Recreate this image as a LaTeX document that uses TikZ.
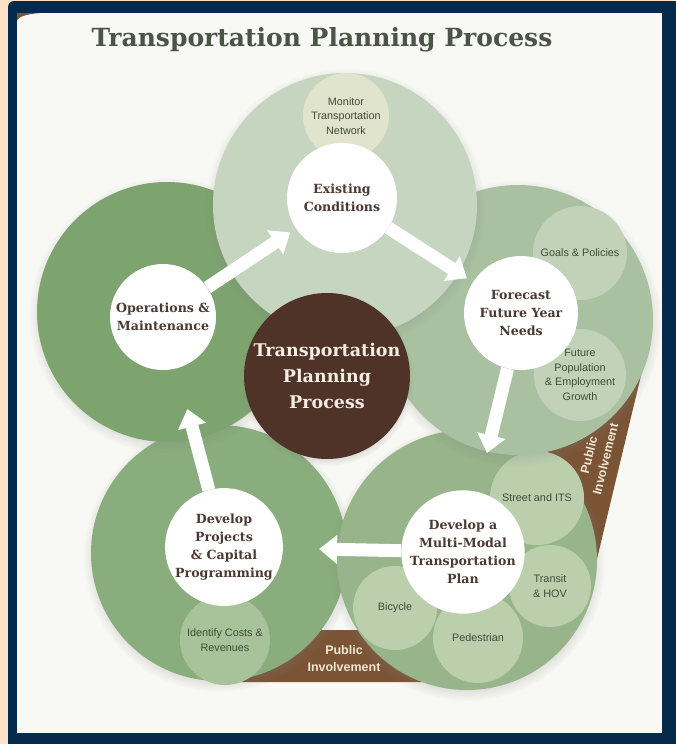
\documentclass[tikz,border=0pt]{standalone}
\usepackage{fontspec}
\setmainfont{DejaVu Serif}
\newfontfamily\labelfont{Liberation Sans}
\usepackage{tikz}
\usetikzlibrary{arrows.meta,shadows}

\definecolor{peach}{HTML}{FCE3C8}
\definecolor{navy}{HTML}{062A4C}
\definecolor{paper}{HTML}{F8F8F4}
\definecolor{titlegray}{HTML}{4B5447}
\definecolor{ringbrown}{HTML}{7B5435}
\definecolor{hubbrown}{HTML}{4F3328}
\definecolor{hubink}{HTML}{F3EDE3}
\definecolor{existgreen}{HTML}{C6D5C0}
\definecolor{monitorfill}{HTML}{E1E4CC}
\definecolor{opsgreen}{HTML}{7DA36F}
\definecolor{foregreen}{HTML}{A9C1A1}
\definecolor{foresub}{HTML}{C2D2B8}
\definecolor{plangreen}{HTML}{97B48A}
\definecolor{plansub}{HTML}{BBCFAD}
\definecolor{projgreen}{HTML}{89AD7C}
\definecolor{projsub}{HTML}{A8C29A}
\definecolor{stepink}{HTML}{4A3A33}
\definecolor{subink}{HTML}{3F4B3B}
\definecolor{pubink}{HTML}{F0E6D6}

\begin{document}
\begin{tikzpicture}[x=1pt,y=-1pt,
  bigdisc/.style={circle,minimum size=#1,inner sep=0pt,
    circular drop shadow={shadow scale=1.06,shadow xshift=0pt,shadow yshift=-3pt,opacity=.35}},
  whitedisc/.style={circle,fill=white,minimum size=#1,inner sep=0pt,align=center,
    text=stepink,font=\bfseries\fontsize{12.6}{18}\selectfont},
  subdisc/.style={circle,minimum size=#1,inner sep=0pt,align=center,
    text=subink,font=\labelfont\fontsize{10.8}{14.5}\selectfont},
  flow/.style={white,line width=13pt,-{Triangle[width=28pt,length=18pt]}},
  publabel/.style={text=pubink,align=center,font=\labelfont\bfseries\fontsize{12.5}{17}\selectfont}]
\useasboundingbox (0,0) rectangle (675,744);

% Frame
\fill[peach] (0,0) rectangle (675,744);
\fill[navy,rounded corners=6pt] (8,1) rectangle (700,770);
\fill[paper] (17,13) rectangle (662,733);
\fill[ringbrown] (17,13) -- (40,13) .. controls (28,14) and (20,16) .. (17,20) -- cycle;

\node[anchor=base,text=titlegray,font=\bfseries\fontsize{25}{30}\selectfont] (title) at (322,46)
  {Transportation Planning Process};

% Public involvement bands
\fill[ringbrown] (225,682) -- (318,630) -- (372,630) -- (450,682) -- cycle;
\fill[ringbrown] (650,338) -- (590,588) -- (540,450) -- cycle;

% Develop projects
\node[bigdisc=256pt,fill=projgreen] (projbig) at (219,553) {};
\node[subdisc=90pt,fill=projsub] (costs) at (225,640) {Identify Costs \&\\Revenues};
\node[whitedisc=116pt] (proj) at (224,547) {Develop\\Projects\\\& Capital\\Programming};

% Multi-modal plan
\node[bigdisc=260pt,fill=plangreen] (planbig) at (467,560) {};
\node[subdisc=94pt,fill=plansub] (street) at (537,498) {Street and ITS};
\node[subdisc=82pt,fill=plansub] (transit) at (550,586) {Transit\\\& HOV};
\node[subdisc=90pt,fill=plansub] (ped) at (478,638) {Pedestrian};
\node[subdisc=84pt,fill=plansub] (bike) at (395,608) {Bicycle};
\node[whitedisc=114pt] (plan) at (463,552) {Develop a\\Multi-Modal\\Transportation\\Plan};

% Forecast
\node[bigdisc=270pt,fill=foregreen] (forebig) at (518,320) {};
\node[subdisc=94pt,fill=foresub] (goals) at (580,253) {Goals \& Policies};
\node[subdisc=92pt,fill=foresub] (growth) at (580,375) {Future\\Population\\\& Employment\\Growth};
\node[whitedisc=114pt] (fore) at (521,313) {Forecast\\Future Year\\Needs};

% Operations
\node[bigdisc=260pt,fill=opsgreen] (opsbig) at (167,312) {};
\node[whitedisc=106pt] (ops) at (163,317) {Operations \&\\Maintenance};

% Existing conditions
\node[bigdisc=264pt,fill=existgreen] (existbig) at (345,205) {};
\node[subdisc=86pt,fill=monitorfill] (monitor) at (346,116) {Monitor\\Transportation\\Network};
\node[whitedisc=110pt] (exist) at (342,198) {Existing\\Conditions};

% Cycle arrows
\draw[flow,shorten >=7pt] (ops) -- (exist);
\draw[flow,shorten >=7pt] (exist) -- (fore);
\draw[flow,shorten >=40pt] (fore) -- (plan);
\draw[flow,shorten >=36pt] (plan) -- (proj);
\draw[flow,shorten >=42pt] (proj) -- (ops);

% Hub
\node[circle,fill=hubbrown,minimum size=166pt,inner sep=0pt,align=center,text=hubink,
  font=\bfseries\fontsize{17.5}{26}\selectfont,
  circular drop shadow={shadow scale=1.05,shadow xshift=0pt,shadow yshift=-3pt,opacity=.35}] (hub) at (327,376)
  {Transportation\\Planning\\Process};

\node[publabel] (pubbottom) at (344,659) {Public\\Involvement};
\node[publabel,rotate=76] (pubright) at (597,457) {Public\\Involvement};
\end{tikzpicture}
\end{document}
